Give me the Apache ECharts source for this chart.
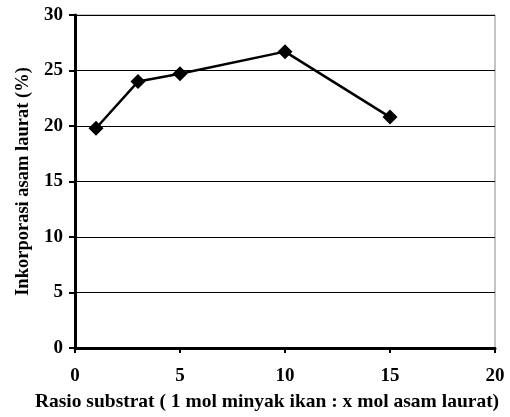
<!DOCTYPE html>
<html><head><meta charset="utf-8">
<script src="https://cdn.jsdelivr.net/npm/echarts@6/dist/echarts.min.js"></script>
<style>html,body{margin:0;padding:0;background:#fff}#c{width:510px;height:417px}</style>
</head><body><div id="c"></div>
<script>
var xValues = [1, 3, 5, 10, 15];
var yValues = [19.8, 24.0, 24.7, 26.7, 20.8];
var xTicks = [0, 5, 10, 15, 20];
var yTicks = [0, 5, 10, 15, 20, 25, 30];
var xTitle = 'Rasio substrat ( 1 mol minyak ikan : x mol asam laurat)';
var yTitle = 'Inkorporasi asam laurat (%)';

var font = '"Liberation Serif", "Times New Roman", serif';
var chart = echarts.init(document.getElementById('c'));
chart.setOption({
  animation: false,
  backgroundColor: '#fff',
  grid: [
    {left: 75, right: 15, top: 15, bottom: 65, show: true, borderColor: '#888', borderWidth: 1, backgroundColor: 'transparent'}
  ],
  xAxis: {
    type: 'value', min: xTicks[0], max: xTicks[xTicks.length-1], interval: 5,
    axisLine: {onZero: false, lineStyle: {color: '#000', width: 3}},
    axisTick: {show: true, length: 5, lineStyle: {color: '#000', width: 2}},
    axisLabel: {margin: 19, color: '#000', fontFamily: font, fontWeight: 'bold', fontSize: 19},
    splitLine: {show: false},
    name: xTitle, nameLocation: 'middle', nameGap: 44,
    nameTextStyle: {color: '#000', fontFamily: font, fontWeight: 'bold', fontSize: 19.5, padding: [0, 36, 0, 0]}
  },
  yAxis: {
    type: 'value', min: yTicks[0], max: yTicks[yTicks.length-1], interval: 5,
    axisLine: {onZero: false, lineStyle: {color: '#000', width: 3}},
    axisTick: {show: true, length: 6, lineStyle: {color: '#000', width: 2}},
    axisLabel: {margin: 12, color: '#000', fontFamily: font, fontWeight: 'bold', fontSize: 19},
    splitLine: {show: true, lineStyle: {color: '#000', width: 1}},
    name: yTitle, nameLocation: 'middle', nameGap: 40,
    nameTextStyle: {color: '#000', fontFamily: font, fontWeight: 'bold', fontSize: 18.5}
  },
  series: [{
    type: 'line',
    data: xValues.map(function(x, i){ return [x, yValues[i]]; }),
    symbol: 'diamond', symbolSize: 15,
    lineStyle: {color: '#000', width: 2.5},
    itemStyle: {color: '#000'}
  }]
});
</script></body></html>
